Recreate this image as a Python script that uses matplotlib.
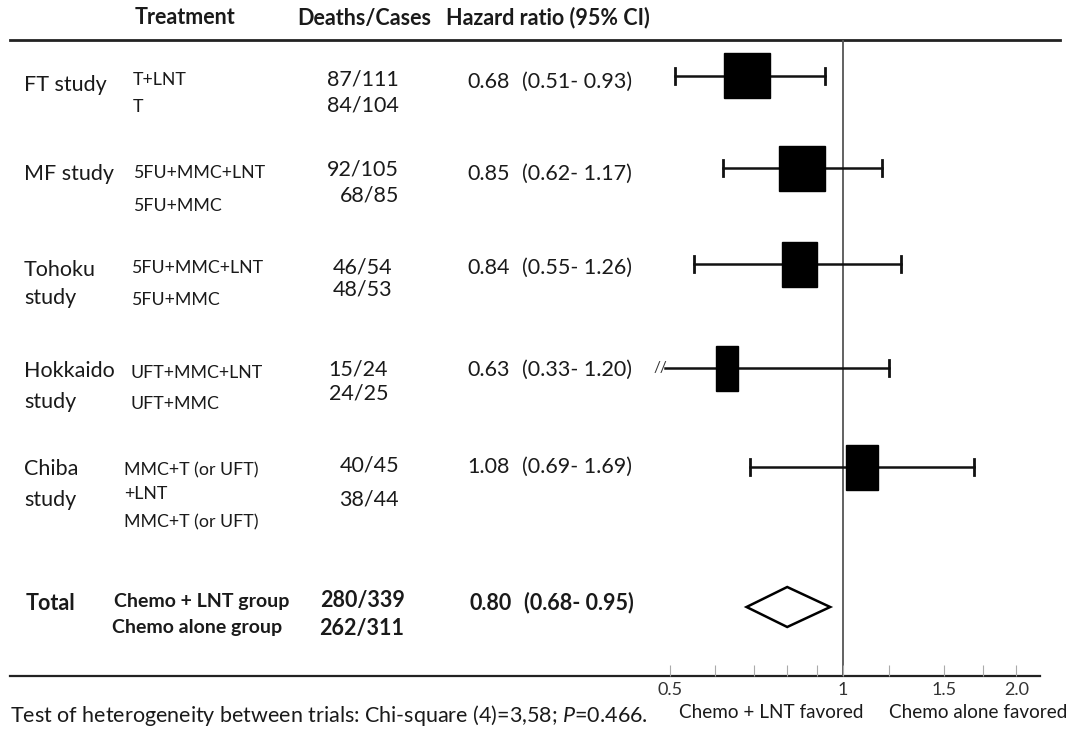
import numpy as np
import matplotlib
matplotlib.use('Agg')
import matplotlib.pyplot as plt
from matplotlib.patches import Rectangle, Polygon

plt.rcParams['font.family'] = ['Lato', 'DejaVu Sans']
plt.rcParams['mathtext.fontset'] = 'custom'
plt.rcParams['mathtext.rm'] = 'Lato'
plt.rcParams['mathtext.it'] = 'Lato:italic'

# data
studies = [['FT study'], ['MF study'], ['Tohoku', 'study'], ['Hokkaido', 'study'], ['Chiba', 'study']]
treat_a = [['T+LNT'], ['5FU+MMC+LNT'], ['5FU+MMC+LNT'], ['UFT+MMC+LNT'], ['MMC+T (or UFT)', '+LNT']]
treat_b = ['T', '5FU+MMC', '5FU+MMC', 'UFT+MMC', 'MMC+T (or UFT)']
deaths_a = ['87/111', '92/105', '46/54', '15/24', '40/45']
deaths_b = ['84/104', '68/85', '48/53', '24/25', '38/44']
hr = [0.68, 0.85, 0.84, 0.63, 1.08]
lo = [0.51, 0.62, 0.55, 0.33, 0.69]
hi = [0.93, 1.17, 1.26, 1.20, 1.69]
total_hr, total_lo, total_hi = 0.80, 0.68, 0.95
total_a, total_b = '280/339', '262/311'

# layout (pixel rows)
mark_y = [75.5, 168, 264, 368, 467]
text_y = [82, 174, 268, 370, 467]
name_y = [[85], [174], [270, 298], [371, 402], [469, 500]]
ta_y = [[80], [173], [268], [373], [470, 494]]
tb_y = [107, 206, 300, 404, 522]
tx = [133, 133, 131, 131, 124]
da_y = [79, 169, 267, 370, 466]
db_y = [106, 195, 290, 393, 500]
d_right = [399, 399, 392, 388, 399]
box_w = [0.092, 0.092, 0.07, 0.044, 0.064]   # half-width, log units
box_h = 45
total_y = 607
x_min, x_max = 0.453, 2.243

fig = plt.figure(figsize=(10.73, 7.32), dpi=100)
bg = fig.add_axes([0, 0, 1, 1])
bg.set_xlim(0, 1073)
bg.set_ylim(732, 0)
bg.axis('off')

txt = '#1a1a1a'
# header
hdr = dict(fontsize=15.5, fontweight='bold', va='center', color=txt)
bg.text(185, 18, 'Treatment', ha='center', **hdr)
bg.text(297, 18, 'Deaths/Cases', ha='left', **hdr)
bg.text(446, 18, 'Hazard ratio (95% CI)', ha='left', **hdr)
bg.plot([10, 1060], [40, 40], color='#222222', lw=2)
bg.plot([10, 1040], [676, 676], color='#222222', lw=1.6)

# study rows
for i in range(len(studies)):
    for s, y in zip(studies[i], name_y[i]):
        bg.text(24, y, s, fontsize=15.5, va='center', ha='left', color=txt)
    for s, y in zip(treat_a[i], ta_y[i]):
        bg.text(tx[i], y, s, fontsize=12.8, va='center', ha='left', color=txt)
    bg.text(tx[i], tb_y[i], treat_b[i], fontsize=12.8, va='center', ha='left', color=txt)
    bg.text(d_right[i], da_y[i], deaths_a[i], fontsize=15.5, va='center', ha='right', color=txt)
    bg.text(d_right[i], db_y[i], deaths_b[i], fontsize=15.5, va='center', ha='right', color=txt)
    bg.text(510, text_y[i], f'{hr[i]:.2f}', fontsize=15.5, va='center', ha='right', color=txt)
    bg.text(522, text_y[i], f'({lo[i]:.2f}- {hi[i]:.2f})', fontsize=15.5, va='center',
            ha='left', color=txt)

# total row
bold = dict(fontweight='bold', va='center', color=txt)
bg.text(26, 603, 'Total', fontsize=15.5, **bold)
bg.text(114, 601, 'Chemo + LNT group', fontsize=14, **bold)
bg.text(112, 628, 'Chemo alone group', fontsize=14, **bold)
bg.text(405, 601, total_a, fontsize=15.5, ha='right', **bold)
bg.text(404, 628, total_b, fontsize=15.5, ha='right', **bold)
bg.text(512, 603, f'{total_hr:.2f}', fontsize=15.5, ha='right', **bold)
bg.text(524, 603, f'({total_lo:.2f}- {total_hi:.2f})', fontsize=15.5, ha='left', **bold)

# footer
bg.text(10, 716, 'Test of heterogeneity between trials: Chi-square (4)=3,58; $P$=0.466.',
        fontsize=15.5, va='center', ha='left', color=txt)
bg.text(679, 713, 'Chemo + LNT favored', fontsize=13.6, va='center', ha='left', color=txt)
bg.text(1067, 713, 'Chemo alone favored', fontsize=13.6, va='center', ha='right', color=txt)

# forest axes
ax = fig.add_axes([645 / 1073, (732 - 676) / 732, 400 / 1073, (676 - 40) / 732])
ax.patch.set_visible(False)
ax.set_xscale('log')
ax.set_xlim(x_min, x_max)
ax.set_ylim(676, 40)
for s in ax.spines.values():
    s.set_visible(False)
ax.set_yticks([])
ax.set_xticks([0.5, 1, 1.5, 2.0])
ax.set_xticklabels(['0.5', '1', '1.5', '2.0'])
ax.set_xticks([0.6, 0.7, 0.8, 0.9, 1.2, 1.75], minor=True)
ax.xaxis.set_minor_formatter(plt.NullFormatter())
ax.tick_params(axis='x', which='both', direction='in', length=8, width=0.8,
               color='#aaaaaa', labelsize=13, pad=4, labelcolor='#333333')

ax.axvline(1, color='#555555', lw=1.3, zorder=1)

for i in range(len(hr)):
    y = mark_y[i]
    left = max(lo[i], 0.49)
    ax.plot([left, hi[i]], [y, y], color='#111111', lw=1.8, zorder=2)
    if lo[i] >= 0.49:
        ax.plot([lo[i], lo[i]], [y - 8, y + 8], color='#111111', lw=2, zorder=2)
    else:
        ax.text(left * 1.01, y, '//', fontsize=11, ha='right', va='center', color='#333333')
    ax.plot([hi[i], hi[i]], [y - 8, y + 8], color='#111111', lw=2, zorder=2)
    x0 = hr[i] * np.exp(-box_w[i])
    x1 = hr[i] * np.exp(box_w[i])
    ax.add_patch(Rectangle((x0, y - box_h / 2), x1 - x0, box_h, color='black', zorder=3))

ax.add_patch(Polygon([[total_lo, total_y], [total_hr, total_y - 20],
                      [total_hi, total_y], [total_hr, total_y + 20]],
                     closed=True, facecolor='white', edgecolor='black', lw=1.8, zorder=3))

fig.savefig('out.png', dpi=100)
